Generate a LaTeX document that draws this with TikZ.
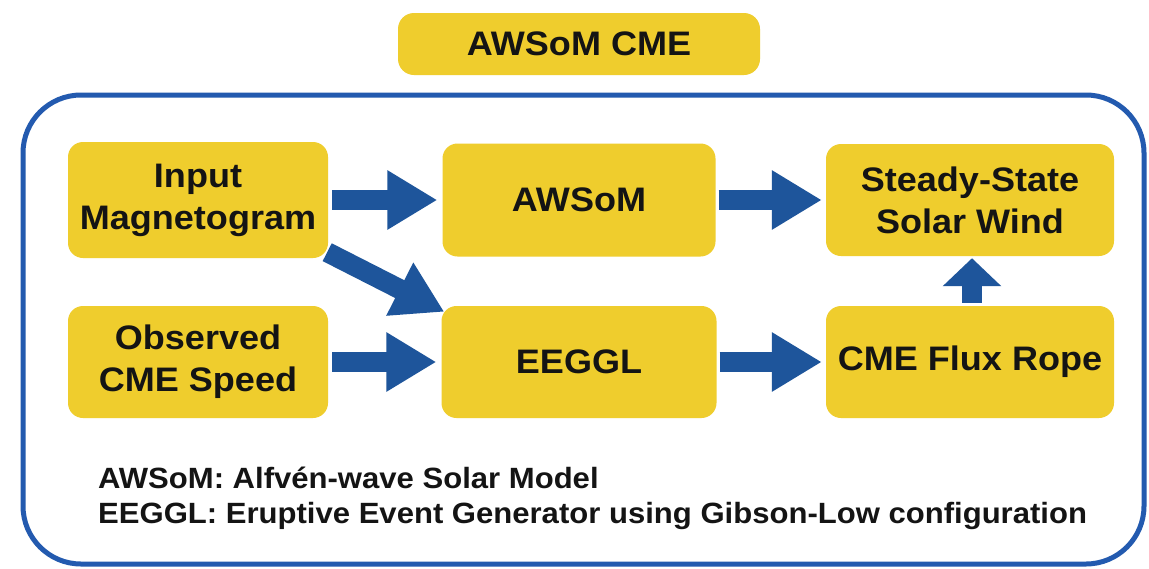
\documentclass[tikz,border=0pt]{standalone}
\usepackage{fontspec}
\setmainfont{Liberation Sans}[FakeStretch=1.06]
\usetikzlibrary{arrows.meta}
\definecolor{boxyellow}{RGB}{239,205,45}
\definecolor{arrowblue}{RGB}{30,85,155}
\definecolor{frameblue}{RGB}{35,90,175}
\definecolor{textblack}{RGB}{20,20,20}
\begin{document}
\begin{tikzpicture}[x=1pt,y=-1pt,
  box/.style={fill=boxyellow, rounded corners=15pt, align=center, text=textblack,
    font=\fontsize{34}{42}\selectfont\bfseries, inner sep=0pt},
  bigarrow/.style={draw=arrowblue, line width=20pt, -{Triangle[length=50pt,width=56pt]}},
  uparrow/.style={draw=arrowblue, line width=20pt, -{Triangle[length=28pt,width=57pt]}},
  legend/.style={anchor=base west, text=textblack, inner sep=0pt,
    font=\fontsize{29.3}{34}\selectfont\bfseries}]
\useasboundingbox (0,0) rectangle (1149,568);
\fill[white] (0,0) rectangle (1149,568);

\node[box, minimum width=362pt, minimum height=62pt, rounded corners=16pt] (title) at (579,44) {AWSoM CME};
\node[draw=frameblue, line width=5pt, rounded corners=58pt, minimum width=1121pt, minimum height=469pt, inner sep=0pt] (frame) at (583.5,329.5) {};

\node[box, minimum width=260pt, minimum height=116pt] (in) at (198,200) {Input\\Magnetogram};
\node[box, minimum width=273pt, minimum height=113pt] (aw) at (579,200) {AWSoM};
\node[box, minimum width=288pt, minimum height=112pt] (ss) at (970,200) {Steady-State\\Solar Wind};
\node[box, minimum width=260pt, minimum height=112pt] (obs) at (198,362) {Observed\\CME Speed};
\node[box, minimum width=275pt, minimum height=112pt] (ee) at (579,362) {EEGGL};
\node[box, minimum width=288pt, minimum height=112pt] (fr) at (970,362) {CME Flux Rope};

\draw[bigarrow] ([xshift=4pt]in.east) -- ([xshift=-5pt]aw.west);
\draw[bigarrow] ([xshift=3pt]aw.east) -- ([xshift=-4pt]ss.west);
\draw[bigarrow] ([xshift=4pt]obs.east) -- ([xshift=-5pt]ee.west);
\draw[bigarrow] ([xshift=3pt]ee.east) -- ([xshift=-4pt]fr.west);
\draw[bigarrow] ([shift={(-1,-6)}]in.south east) -- ([shift={(3,6)}]ee.north west);
\draw[uparrow] ([xshift=2pt,yshift=3pt]fr.north) -- ([xshift=2pt,yshift=-2pt]ss.south);

\node[legend] (leg1) at (98,488) {AWSoM: Alfvén-wave Solar Model};
\node[legend] (leg2) at (98,523) {EEGGL: Eruptive Event Generator using Gibson-Low configuration};
\end{tikzpicture}
\end{document}
